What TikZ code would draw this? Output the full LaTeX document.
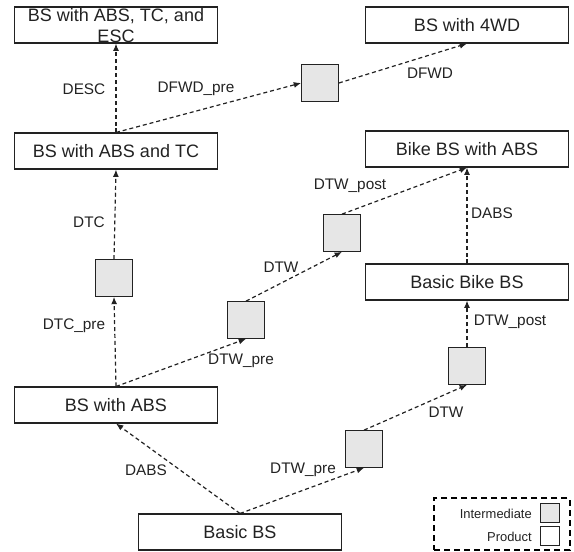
\documentclass[tikz,border=0pt]{standalone}
\usepackage{fontspec}
\setmainfont{Liberation Sans}
\usetikzlibrary{arrows.meta}

\definecolor{inter}{HTML}{E6E6E6}
\definecolor{ink}{HTML}{222222}

\begin{document}
\begin{tikzpicture}[x=0.75pt, y=-0.75pt,
    every node/.style={text=ink},
    prod/.style={draw=ink, line width=0.8pt, fill=white, minimum width=152pt, minimum height=27pt, inner sep=0pt, font=\fontsize{13.5}{15.75}\selectfont},
    inter/.style={draw=ink, line width=0.8pt, fill=inter, minimum width=27.5pt, minimum height=27.5pt, inner sep=0pt},
    delta/.style={draw=ink, line width=0.9pt, dash pattern=on 3pt off 2.2pt, -{Latex[length=5.5pt,width=4.5pt]}},
    lbl/.style={font=\fontsize{11.5}{13}\selectfont, inner sep=0pt},
    legtext/.style={font=\fontsize{9.7}{11}\selectfont, inner sep=0pt, anchor=east}]

    \useasboundingbox (0,0) rectangle (574,552);

    % --- Products ---
    \node[prod] (basic)    at (240,532) {Basic BS};
    \node[prod] (abs)      at (116,405) {BS with ABS};
    \node[prod] (abstc)    at (116,151) {BS with ABS and TC};
    \node[prod] (abstcesc) at (116,25)  {};
    \node[prod] (fwd)      at (467,25)  {BS with 4WD};
    \node[prod] (bike)     at (467,282) {Basic Bike BS};
    \node[prod] (bikeabs)  at (467,149) {Bike BS with ABS};

    % two-line title runs over the lower edge of its box
    \node[align=center, font=\fontsize{13.5}{15.75}\selectfont, inner sep=0pt] (esctext) at (116,26) {BS with ABS, TC, and\\ESC};

    % --- Intermediates ---
    \node[inter] (iTC)   at (114,278) {};
    \node[inter] (iFWD)  at (320,83)  {};
    \node[inter] (iTWa)  at (246,320) {};
    \node[inter] (iTWb)  at (342,233) {};
    \node[inter] (iTWc)  at (364,449) {};
    \node[inter] (iTWd)  at (467,366) {};

    % --- Deltas ---
    \draw[delta] (basic.north) -- (abs.south);
    \draw[delta] (basic.north) -- (iTWc.south);
    \draw[delta] (iTWc.north) -- (iTWd.south);
    \draw[delta] (iTWd.north) -- (bike.south);
    \draw[delta] (bike.north) -- (bikeabs.south);
    \draw[delta] (abs.north) -- (iTWa.south);
    \draw[delta] (iTWa.north) -- (iTWb.south);
    \draw[delta] (iTWb.north) -- (bikeabs.south);
    \draw[delta] (abs.north) -- (iTC.south);
    \draw[delta] (iTC.north) -- (abstc.south);
    \draw[delta] (abstc.north) -- (abstcesc.south);
    \draw[delta] (abstc.north) -- (iFWD.west);
    \draw[delta] (iFWD.east) -- (fwd.south);

    % --- Delta labels ---
    \node[lbl] (lDABSa)   at (146,470) {DABS};
    \node[lbl] (lTWprea)  at (303,470) {DTW\_pre};
    \node[lbl] (lTWa)     at (446,412) {DTW};
    \node[lbl] (lTWposta) at (510,322) {DTW\_post};
    \node[lbl] (lDABSb)   at (492,213) {DABS};
    \node[lbl] (lTWpreb)  at (241,361) {DTW\_pre};
    \node[lbl] (lTWb)     at (281,267) {DTW};
    \node[lbl] (lTWpostb) at (350,186) {DTW\_post};
    \node[lbl] (lTCpre)   at (74,326)  {DTC\_pre};
    \node[lbl] (lTC)      at (89,222)  {DTC};
    \node[lbl] (lESC)     at (84,89)   {DESC};
    \node[lbl] (lFWDpre)  at (196,89)  {DFWD\_pre};
    \node[lbl] (lFWD)     at (430,73)  {DFWD};

    % --- Legend ---
    \node[draw=black, line width=1.5pt, dash pattern=on 4.5pt off 3pt, minimum width=102pt, minimum height=38.5pt, inner sep=0pt] (legend) at (502,524) {};
    \node[inter, minimum width=14pt, minimum height=14pt] (legI) at (550,513) {};
    \node[draw=ink, line width=0.8pt, fill=white, minimum width=14pt, minimum height=14pt, inner sep=0pt] (legP) at (550,536) {};
    \node[legtext] (legItext) at (532,514) {Intermediate};
    \node[legtext] (legPtext) at (532,537) {Product};

\end{tikzpicture}
\end{document}
